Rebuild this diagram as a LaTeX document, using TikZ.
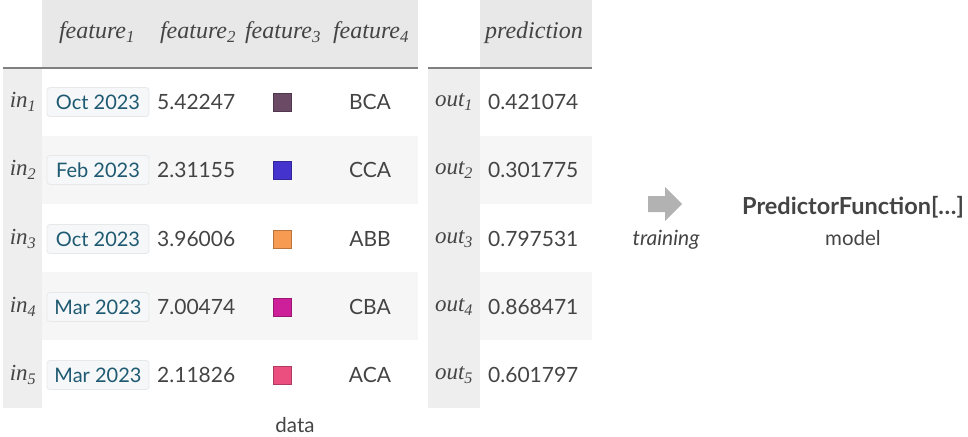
\documentclass[tikz,border=0pt]{standalone}
\usepackage{fontspec}
\setmainfont{Liberation Serif}
\newfontfamily\uisans{Lato}
\definecolor{hdr}{HTML}{E8E8E8}
\definecolor{lab}{HTML}{EEEEEE}
\definecolor{stripe}{HTML}{F6F6F6}
\definecolor{txt}{HTML}{444444}
\definecolor{datec}{HTML}{1E5A72}
\definecolor{pillf}{HTML}{F6F7F8}
\definecolor{pilld}{HTML}{E6E8EA}
\definecolor{cA}{HTML}{6B4A65}
\definecolor{cB}{HTML}{4433CC}
\definecolor{cC}{HTML}{F79A52}
\definecolor{cD}{HTML}{CC1F99}
\definecolor{cE}{HTML}{EA4F80}
\tikzset{
  hdrtext/.style={font=\fontsize{24}{26}\selectfont\itshape, text=txt, inner sep=0pt},
  labtext/.style={font=\fontsize{23}{25}\selectfont\itshape, text=txt, inner sep=0pt},
  val/.style={font=\uisans\fontsize{21}{23}\selectfont, text=txt, inner sep=0pt},
  small/.style={font=\uisans\fontsize{20.5}{23}\selectfont, text=txt, inner sep=0pt},
  datepill/.style={font=\uisans\fontsize{20}{22}\selectfont, text=datec, fill=pillf, draw=pilld, line width=0.8pt, rounded corners=3pt, minimum width=102pt, minimum height=29pt, inner sep=0pt},
  swatch/.style={minimum width=18pt, minimum height=18pt, inner sep=0pt, line width=0.8pt}
}
\begin{document}
\begin{tikzpicture}[x=1pt,y=-1pt]
\useasboundingbox (0,0) rectangle (968,436);
% left table backgrounds
\fill[hdr] (42,0) rectangle (418,68);
\fill[lab] (3,68) rectangle (42,408);
\fill[stripe] (42,136) rectangle (418,204);
\fill[stripe] (42,272) rectangle (418,340);
\draw[gray, line width=1.6pt] (3,68) -- (418,68);
% right table backgrounds
\fill[hdr] (480,0) rectangle (592,68);
\fill[lab] (428,68) rectangle (480,408);
\fill[stripe] (480,136) rectangle (592,204);
\fill[stripe] (480,272) rectangle (592,340);
\draw[gray, line width=1.6pt] (428,68) -- (592,68);
% headers
\node[hdrtext] (h1) at (97,33) {feature\textsubscript{\itshape 1}};
\node[hdrtext] (h2) at (198,33) {feature\textsubscript{\itshape 2}};
\node[hdrtext] (h3) at (283,33) {feature\textsubscript{\itshape 3}};
\node[hdrtext] (h4) at (371,33) {feature\textsubscript{\itshape 4}};
\node[hdrtext] (hp) at (534,33) {prediction};
% rows
\foreach \i/\y/\d/\v/\c/\s/\o in {1/102/Oct 2023/5.42247/cA/BCA/0.421074,
                                  2/170/Feb 2023/2.31155/cB/CCA/0.301775,
                                  3/239/Oct 2023/3.96006/cC/ABB/0.797531,
                                  4/307/Mar 2023/7.00474/cD/CBA/0.868471,
                                  5/375/Mar 2023/2.11826/cE/ACA/0.601797}{
  \node[labtext] (in\i) at (23,\y) {in\textsubscript{\itshape\i}};
  \node[datepill] (d\i) at (98,\y) {\d};
  \node[val, anchor=west] (v\i) at (157,\y) {\v};
  \node[swatch, fill=\c, draw=\c!75!black] (s\i) at (282,\y) {};
  \node[val] (c\i) at (370,\y) {\s};
  \node[labtext] (out\i) at (454,\y) {out\textsubscript{\itshape\i}};
  \node[val, anchor=west] (p\i) at (488,\y) {\o};
}
\node[small] (data) at (295,425) {data};
% arrow
\fill[black!30] (648,196) -- (665,196) -- (665,187) -- (682,204) -- (665,221) -- (665,212) -- (648,212) -- cycle;
\node[small, font=\uisans\itshape\fontsize{21}{23}\selectfont] (train) at (666,240) {training};
\node[val, font=\uisans\bfseries\fontsize{23.5}{26}\selectfont] (pf) at (853,207) {PredictorFunction[…]};
\node[small] (model) at (853,238) {model};
\end{tikzpicture}
\end{document}
